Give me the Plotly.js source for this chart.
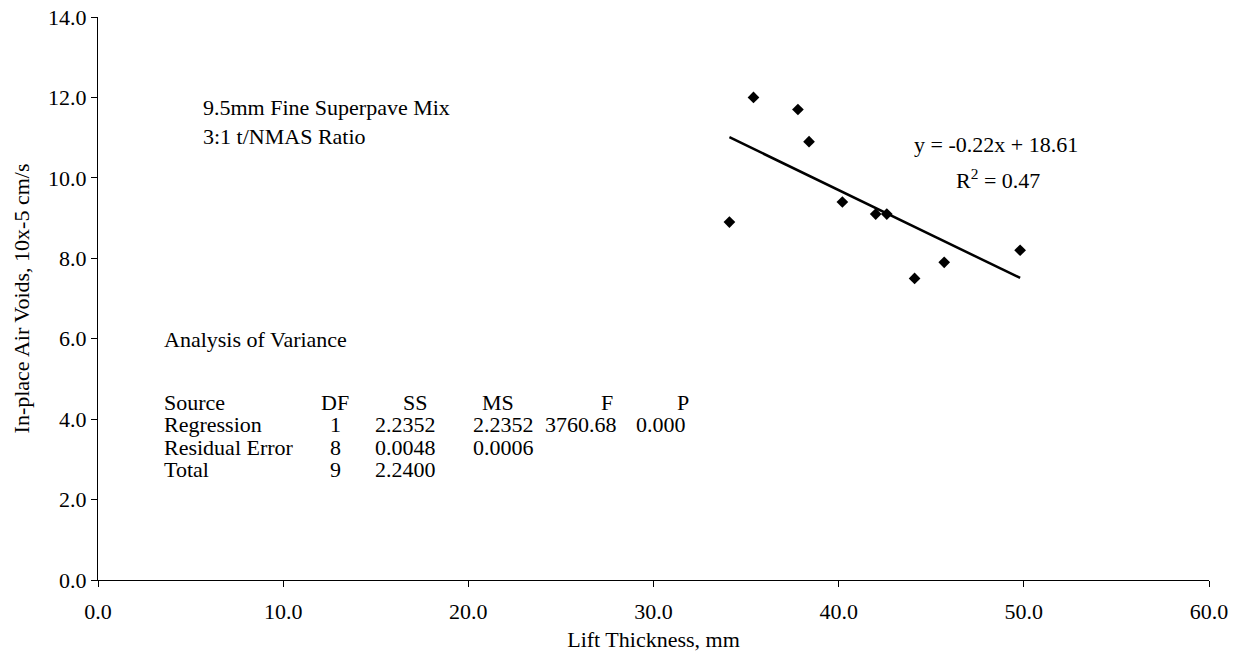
<!DOCTYPE html>
<html>
<head>
<meta charset="utf-8">
<script src="https://cdn.plot.ly/plotly-3.0.1.min.js"></script>
<style>html,body{margin:0;padding:0;background:#fff;}#chart{width:1244px;height:663px;}</style>
</head>
<body>
<div id="chart"></div>
<script>
// Data
const liftThickness = [34.1, 35.4, 37.8, 38.4, 40.2, 42.0, 42.6, 44.1, 45.7, 49.8];
const airVoids = [8.9, 12.0, 11.7, 10.9, 9.4, 9.1, 9.1, 7.5, 7.9, 8.2];
const xTicks = [0, 10, 20, 30, 40, 50, 60];
const yTicks = [0, 2, 4, 6, 8, 10, 12, 14];
const infoLines = ["9.5mm Fine Superpave Mix", "3:1 t/NMAS Ratio"];
const equationText = "y = -0.22x + 18.61";
const r2Text = "R<sup>2</sup> = 0.47";
const anovaTitle = "Analysis of Variance";
const anovaHeader = ["Source", "DF", "SS", "MS", "F", "P"];
const anovaRows = [
  ["Regression", "1", "2.2352", "2.2352", "3760.68", "0.000"],
  ["Residual Error", "8", "0.0048", "0.0006", "", ""],
  ["Total", "9", "2.2400", "", "", ""]
];

// least-squares trendline computed from the data
const n = liftThickness.length;
const mx = liftThickness.reduce((a, b) => a + b, 0) / n;
const my = airVoids.reduce((a, b) => a + b, 0) / n;
let sxy = 0, sxx = 0;
for (let i = 0; i < n; i++) { sxy += (liftThickness[i] - mx) * (airVoids[i] - my); sxx += (liftThickness[i] - mx) ** 2; }
const slope = sxy / sxx, intercept = my - slope * mx;
const trendX = [Math.min(...liftThickness), Math.max(...liftThickness)];
const trendY = trendX.map(x => intercept + slope * x);

const font = {family: "Liberation Serif, Times New Roman, serif", size: 22, color: "#000"};

const traces = [
  {x: trendX, y: trendY, type: "scatter", mode: "lines",
   line: {color: "#000", width: 2.5}, showlegend: false, hoverinfo: "skip"},
  {x: liftThickness, y: airVoids, type: "scatter", mode: "markers",
   marker: {symbol: "diamond", size: 9, color: "#000"}, showlegend: false}
];

const ann = [];
function txt(x, y, text, xanchor) {
  ann.push({x: x, y: y, xref: "x", yref: "y", text: text, showarrow: false,
            xanchor: xanchor || "left", yanchor: "middle", font: font, borderpad: 0});
}
txt(5.6, 11.74, infoLines[0]);
txt(5.6, 11.04, infoLines[1]);
txt(48.5, 10.82, equationText, "center");
txt(48.6, 9.97, r2Text, "center");
txt(3.5, 5.97, anovaTitle);
// table layout
const headX = [3.5, 12.8, 17.1, 21.6, 27.5, 31.6];
const headAnchor = ["left", "center", "center", "center", "center", "center"];
const valX = [3.5, 12.8, 14.9, 20.2, 24.1, 29.0];
const valAnchor = ["left", "center", "left", "left", "left", "left"];
const rowY = [4.42, 3.86, 3.30, 2.74];
anovaHeader.forEach((h, j) => txt(headX[j], rowY[0], h, headAnchor[j]));
anovaRows.forEach((row, i) => row.forEach((v, j) => { if (v) txt(valX[j], rowY[i + 1], v, valAnchor[j]); }));

const axisCommon = {showline: true, linecolor: "#000", linewidth: 1, ticks: "outside", ticklen: 6,
  tickcolor: "#000", tickwidth: 1, showgrid: false, zeroline: false, tickfont: font, fixedrange: true};

const layout = {
  width: 1244, height: 663,
  margin: {l: 98, r: 35, t: 17, b: 83},
  paper_bgcolor: "#fff", plot_bgcolor: "#fff",
  font: font,
  showlegend: false,
  xaxis: Object.assign({}, axisCommon, {range: [0, 60], tickvals: xTicks, ticktext: xTicks.map(v => v.toFixed(1)),
    ticklabelstandoff: 6,
    title: {text: "Lift Thickness, mm", font: font, standoff: 8}}),
  yaxis: Object.assign({}, axisCommon, {range: [0, 14], tickvals: yTicks, ticktext: yTicks.map(v => v.toFixed(1)),
    title: {text: "In-place Air Voids, 10x-5 cm/s", font: font, standoff: 12}}),
  annotations: ann
};
Plotly.newPlot("chart", traces, layout, {staticPlot: true});
</script>
</body>
</html>
